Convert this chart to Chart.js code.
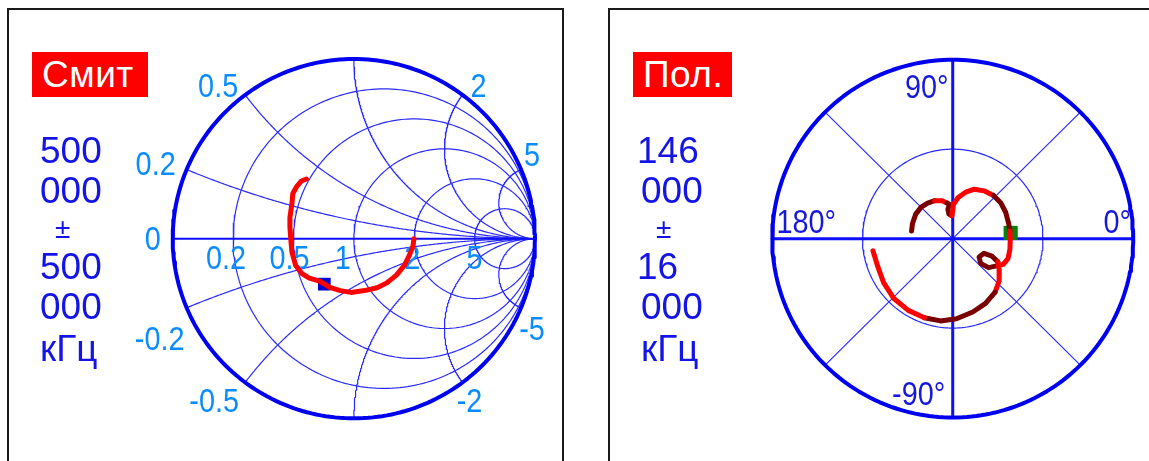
<!DOCTYPE html>
<html><head><meta charset="utf-8">
<script src="https://cdn.jsdelivr.net/npm/chart.js@4.4.1/dist/chart.umd.min.js"></script>
<style>
html,body{margin:0;padding:0;background:#fff;width:1149px;height:461px;overflow:hidden;}
#wrap{position:relative;width:1149px;height:461px;}
.frame{position:absolute;border:2px solid #1a1a1a;box-sizing:border-box;}
canvas{position:absolute;top:0;z-index:2;}
.tag{position:absolute;z-index:3;background:#ff0000;color:#fff;font-family:'Liberation Sans',Arial,sans-serif;font-size:37px;line-height:45px;height:45px;box-sizing:border-box;white-space:nowrap;letter-spacing:0.5px;}
.fq{position:absolute;z-index:3;color:#1414e6;font-family:'Liberation Sans',Arial,sans-serif;font-size:37px;line-height:40px;white-space:nowrap;}
.fq.pm{font-size:28px;}
</style></head>
<body><div id="wrap">
<div class="frame" style="left:7px;top:8px;width:557px;height:520px;"></div>
<div class="frame" style="left:608px;top:8px;width:620px;height:520px;"></div>
<canvas id="smith" width="575" height="461" style="left:0px"></canvas>
<canvas id="polar" width="574" height="461" style="left:575px"></canvas>
<div class="tag" id="tagL" style="left:32px;top:52px;width:116px;padding-left:10px;"></div>
<div class="tag" id="tagR" style="left:633px;top:52px;width:99px;padding-left:10px;"></div>
<div id="fqL"></div><div id="fqR"></div>
</div>
<script>
// ---------------- data ----------------
const smithTitle = 'Смит';
const polarTitle = 'Пол.';
const smithFreqLines = ['500', '000', '±', '500', '000', 'кГц'];
const polarFreqLines = ['146', '000', '±', '16', '000', 'кГц'];

// Smith grid values
const smithResistances = [0.2, 0.5, 1, 2, 5];
const smithReactances = [0.2, 0.5, 1, 2, 5, -0.2, -0.5, -1, -2, -5];
const smithReactanceLabels = ['0.5', '2', '5', '0.2', '0', '-0.2', '-0.5', '-2', '-5'];
const smithResistanceLabels = ['0.2', '0.5', '1', '2', '5'];

// Smith trace (reflection coefficient, real / imaginary)
const smithTraceRe = [-0.262,-0.289,-0.316,-0.337,-0.342,-0.353,-0.353,-0.348,-0.342,-0.321,-0.289,-0.246,-0.193,-0.128,-0.075,-0.016,0.059,0.128,0.182,0.235,0.278,0.305,0.326,0.332];
const smithTraceIm = [0.332,0.321,0.289,0.251,0.193,0.118,0.064,-0.005,-0.075,-0.150,-0.193,-0.219,-0.235,-0.273,-0.289,-0.299,-0.289,-0.273,-0.246,-0.203,-0.150,-0.096,-0.043,0.000];
const smithMarkerRe = [-0.163];
const smithMarkerIm = [-0.253];

// Polar grid values
const polarRings = [0.5];
const polarAxisAngles = [0, 90];
const polarSpokeAngles = [45, 135];
const polarAngleLabels = ['90°', '180°', '0°', '-90°'];

// Polar trace (real / imaginary)
const polarTraceRe = [-0.228,-0.223,-0.205,-0.175,-0.139,-0.100,-0.059,-0.032,-0.018,-0.027,-0.021,-0.005,0.000,0.004,0.030,0.075,0.119,0.173,0.226,0.267,0.294,0.310,0.317,0.319,0.317,0.306,0.280,0.250,0.199,0.155,0.146,0.173,0.218,0.250,0.258,0.257,0.235,0.182,0.111,0.021,-0.068,-0.157,-0.246,-0.326,-0.383,-0.415,-0.442];
const polarTraceIm = [0.043,0.084,0.137,0.176,0.199,0.212,0.212,0.199,0.191,0.164,0.137,0.128,0.155,0.191,0.230,0.262,0.276,0.267,0.241,0.199,0.146,0.084,0.043,0.004,-0.059,-0.112,-0.144,-0.151,-0.162,-0.139,-0.103,-0.082,-0.098,-0.130,-0.175,-0.237,-0.299,-0.362,-0.410,-0.448,-0.460,-0.442,-0.401,-0.335,-0.246,-0.157,-0.068];
const polarDarkSegments = [[0,5],[7,11],[18,22],[27,33],[36,41]];
const polarMarkerRe = [0.321];
const polarMarkerIm = [0.032];

// ---------------- layout / style ----------------
const R_PX = 187;
const SMITH_CENTER = {x: 356, y: 239};
const POLAR_CENTER = {x: 381, y: 239};
const GRID_BLUE = '#0f0fff';
const THIN_BLUE = '#2a2aff';
const SMITH_LABEL_COLOR = '#0a8cff';
const POLAR_LABEL_COLOR = '#1818dc';
const FONT = "'Liberation Sans', Arial, sans-serif";
const smithReactLabelOffsets = {'0.5':[-27,-10],'2':[16,-10],'5':[11,-15],'0.2':[-31,-6],'0':[-20,0],'-0.2':[-27,30],'-0.5':[-31,18],'-2':[7,18],'-5':[11,20]};
const smithResLabelOffsets = {'0.2':[-7,19],'0.5':[-4,19],'1':[-11,19],'2':[-2,19],'5':[0,19]};
const polarLabelOffsets = {'90°':[-26,27],'180°':[34,-17],'0°':[-16,-17],'-90°':[-34,-24]};
const fqCapTops = [137, 177, null, 253, 293, 335];

// ---------------- HTML text ----------------
document.getElementById('tagL').textContent = smithTitle;
document.getElementById('tagR').textContent = polarTitle;
function freqBlock(id, lines, left) {
  const host = document.getElementById(id);
  lines.forEach((t, i) => {
    const d = document.createElement('div');
    d.className = 'fq' + (t === '±' ? ' pm' : '');
    d.textContent = t;
    let x = left;
    if (t === '±') { x = left + 15; d.style.top = '209px'; }
    else { d.style.top = (fqCapTops[i] - 6.3) + 'px'; }
    if (t.startsWith('1')) x -= 4;
    d.style.left = x + 'px';
    host.appendChild(d);
  });
}
freqBlock('fqL', smithFreqLines, 40);
freqBlock('fqR', polarFreqLines, 641);

// ---------------- geometry helpers ----------------
const N = 240;
function circlePts(cx, cy, r) {
  const pts = [];
  for (let i = 0; i <= N; i++) { const t = 2 * Math.PI * i / N; pts.push({x: cx + r * Math.cos(t), y: cy + r * Math.sin(t)}); }
  return pts;
}
function gammaOf(r, x) {
  const d = (r + 1) * (r + 1) + x * x;
  return {x: ((r - 1) * (r + 1) + x * x) / d, y: 2 * x / d};
}
function reactanceArc(x) {
  const pts = [];
  for (let i = 0; i < N; i++) { const rho = Math.tan((Math.PI / 2) * i / N); pts.push(gammaOf(rho, x)); }
  pts.push({x: 1, y: 0});
  return pts;
}
function lineDS(points, color, width, order, extra) {
  return Object.assign({data: points, showLine: true, borderColor: color, backgroundColor: color,
    borderWidth: width, pointRadius: 0, pointHoverRadius: 0, fill: false, tension: 0, order: order, clip: false,
    borderCapStyle: 'round', borderJoinStyle: 'round'}, extra || {});
}
function zip(a, b) { return a.map((v, i) => ({x: v, y: b[i]})); }

function labelPlugin(items) {
  return {
    id: 'gridLabels',
    beforeDatasetDraw(chart, args) {
      const ds = chart.data.datasets[args.index];
      if (!ds.labelsBefore) return;
      const ctx = chart.ctx, sx = chart.scales.x, sy = chart.scales.y;
      ctx.save();
      items.forEach(it => {
        const px = sx.getPixelForValue(it.x) + it.dx;
        const py = sy.getPixelForValue(it.y) + it.dy;
        ctx.save();
        ctx.translate(px, py);
        ctx.scale(1.03, 1.17);
        ctx.font = '28px ' + FONT;
        ctx.fillStyle = it.color;
        ctx.textAlign = 'center';
        ctx.textBaseline = 'alphabetic';
        ctx.fillText(it.text, 0, 0.358 * 28);
        ctx.restore();
      });
      ctx.restore();
    }
  };
}
function makeChart(id, center, datasets, items) {
  const cv = document.getElementById(id);
  const W = cv.width, H = cv.height;
  return new Chart(cv, {
    type: 'scatter',
    data: {datasets: datasets},
    options: {
      responsive: false, animation: false, devicePixelRatio: 1, events: [],
      layout: {padding: 0},
      plugins: {legend: {display: false}, tooltip: {enabled: false}, title: {display: false}},
      scales: {
        x: {type: 'linear', display: false, bounds: 'data', min: -center.x / R_PX, max: (W - center.x) / R_PX},
        y: {type: 'linear', display: false, bounds: 'data', min: -(H - center.y) / R_PX, max: center.y / R_PX}
      }
    },
    plugins: [labelPlugin(items)]
  });
}

// ---------------- Smith chart ----------------
const smithDS = [];
smithDS.push(lineDS(zip(smithTraceRe, smithTraceIm), '#ff0000', 5, 0));
smithDS.push({data: zip(smithMarkerRe, smithMarkerIm), showLine: false, pointStyle: 'rect', pointRadius: 9,
  pointBackgroundColor: '#0000cc', pointBorderColor: '#0000cc', pointBorderWidth: 0, order: 1, clip: false, labelsBefore: true});
smithDS.push(lineDS(circlePts(0, 0, 1), '#0000f0', 4, 3));
smithDS.push(lineDS([{x: -1, y: 0}, {x: 1, y: 0}], GRID_BLUE, 2, 4));
smithResistances.forEach(r => smithDS.push(lineDS(circlePts(r / (r + 1), 0, 1 / (r + 1)), THIN_BLUE, 1.2, 5)));
smithReactances.forEach(x => smithDS.push(lineDS(reactanceArc(x), THIN_BLUE, 1.2, 5)));

const smithItems = [];
smithReactanceLabels.forEach(t => {
  const g = gammaOf(0, parseFloat(t));
  const o = smithReactLabelOffsets[t];
  smithItems.push({text: t, x: g.x, y: g.y, dx: o[0], dy: o[1], color: SMITH_LABEL_COLOR});
});
smithResistanceLabels.forEach(t => {
  const r = parseFloat(t);
  const o = smithResLabelOffsets[t];
  smithItems.push({text: t, x: (r - 1) / (r + 1), y: 0, dx: o[0], dy: o[1], color: SMITH_LABEL_COLOR});
});
makeChart('smith', SMITH_CENTER, smithDS, smithItems);

// ---------------- Polar chart ----------------
function isDark(i) { return polarDarkSegments.some(s => i >= s[0] && i < s[1]); }
const polarDS = [];
polarDS.push(lineDS(zip(polarTraceRe, polarTraceIm), '#ff0000', 5, 0,
  {segment: {borderColor: c => isDark(c.p0DataIndex) ? '#7a0000' : '#ff0000'}}));
polarDS.push({data: zip(polarMarkerRe, polarMarkerIm), showLine: false, pointStyle: 'rect', pointRadius: 10,
  pointBackgroundColor: '#0a800a', pointBorderColor: '#0a800a', pointBorderWidth: 0, order: 1, clip: false, labelsBefore: true});
polarDS.push(lineDS(circlePts(0, 0, 1), '#0000f0', 4, 3));
polarAxisAngles.forEach(a => {
  const t = a * Math.PI / 180;
  polarDS.push(lineDS([{x: -Math.cos(t), y: -Math.sin(t)}, {x: Math.cos(t), y: Math.sin(t)}], GRID_BLUE, 3, 4));
});
polarSpokeAngles.forEach(a => {
  const t = a * Math.PI / 180;
  polarDS.push(lineDS([{x: -Math.cos(t), y: -Math.sin(t)}, {x: Math.cos(t), y: Math.sin(t)}], THIN_BLUE, 1.2, 5));
});
polarRings.forEach(r => polarDS.push(lineDS(circlePts(0, 0, r), THIN_BLUE, 1.2, 5)));

const polarItems = polarAngleLabels.map(t => {
  const a = parseFloat(t) * Math.PI / 180;
  const o = polarLabelOffsets[t];
  return {text: t, x: Math.cos(a), y: Math.sin(a), dx: o[0], dy: o[1], color: POLAR_LABEL_COLOR};
});
makeChart('polar', POLAR_CENTER, polarDS, polarItems);
</script>
</body></html>
